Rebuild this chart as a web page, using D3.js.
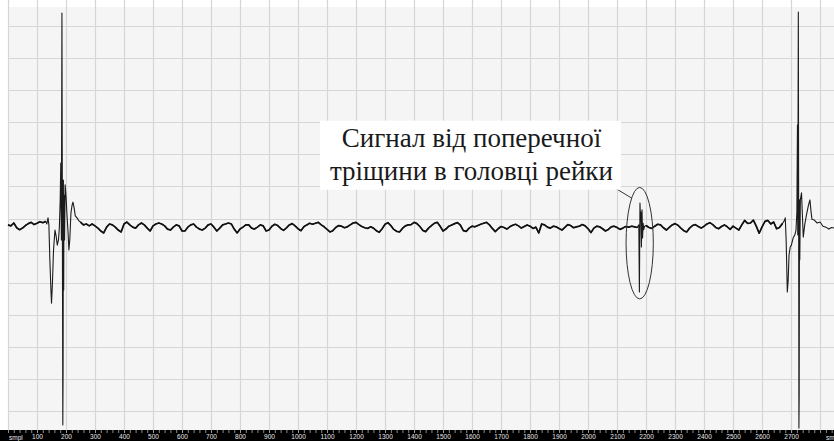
<!DOCTYPE html>
<html>
<head>
<meta charset="utf-8">
<script src="https://cdn.jsdelivr.net/npm/d3@7"></script>
<style>
  html, body { margin: 0; padding: 0; background: #ffffff; }
  svg { display: block; }
</style>
</head>
<body>
<svg id="chart" width="834" height="441"></svg>
<script>
// ---- A-scan of a rail: ultrasonic amplitude vs. sample number ----

// Quiet stretches sampled every 10 samples
const sampleStep = 10;
const leadInStart = 0;
const leadIn = [-2.0, -2.3, -1.4, -2.9, -3.5, -3.0, -2.2, -1.6, -1.2, -1.9, -1.5, -1.0, -1.3, -0.9];

const quietAStart = 250;
const quietA = [
  -1.1, -2.0, -1.7, -2.3, -1.7, -2.3, -3.0, -3.9, -4.5, -2.7,
  -1.7, -2.0, -2.7, -3.6, -4.2, -1.7, -1.1, -2.0, -2.7, -3.0,
  -2.0, -1.4, -2.0, -3.0, -3.9, -2.3, -1.7, -1.4, -1.7, -2.3,
  -3.3, -3.6, -2.7, -2.0, -2.3, -3.9, -3.9, -2.7, -2.0, -1.7,
  -2.7, -3.3, -3.6, -3.0, -2.0, -1.7, -2.7, -3.9, -3.0, -2.0,
  -1.7, -1.4, -1.7, -3.3, -4.5, -3.3, -2.7, -2.0, -2.0, -3.0,
  -3.3, -2.7, -2.0, -2.3, -3.9, -3.6, -2.4, -1.8, -2.2, -3.1,
  -3.7, -2.9, -2.0, -1.6, -2.3, -3.2, -3.8, -2.6, -2.0, -1.5,
  -1.8, -1.5, -1.2, -2.0, -2.6, -3.4, -4.2, -3.8, -2.8, -2.2,
  -2.4, -2.9, -2.6, -2.0, -1.4, -1.2, -1.9, -2.5, -2.9, -3.1,
  -2.6, -3.0, -3.8, -4.3, -3.2, -1.8, -1.3, -2.2, -3.4, -4.0,
  -4.2, -3.1, -2.3, -2.0, -1.9, -1.2, -1.6, -2.5, -3.7, -4.1,
  -3.0, -2.2, -1.5, -1.2, -2.4, -3.9, -3.3, -2.4, -2.0, -1.6,
  -1.3, -2.1, -3.8, -4.0, -3.0, -2.4, -2.6, -2.2, -1.8, -1.5,
  -1.2, -2.0, -3.1, -4.1, -3.2, -2.5, -2.8, -3.3, -2.6, -2.1,
  -1.8, -2.3, -3.0, -2.5, -2.0, -2.4, -3.1, -2.7, -4.5, -1.7,
  -2.0, -2.7, -3.0, -2.4, -2.6, -3.1, -3.6, -2.8, -1.9, -2.2,
  -2.9, -2.6, -2.4, -1.9, -2.3, -3.2, -4.4, -3.0, -2.4, -2.6,
  -3.2, -3.9, -3.4, -2.6, -2.4, -2.8, -3.4, -3.0, -2.5, -2.7,
  -2.4, -2.6, -2.8
];

const quietBStart = 2200;
const quietB = [
  -2.2, -2.8, -3.1, -2.4, -1.8, -2.0, -2.9, -3.6, -2.8, -2.0,
  -1.6, -2.1, -3.0, -3.8, -4.2, -3.0, -2.2, -1.9, -2.5, -3.0,
  -2.4, -1.7, -1.3, -1.9, -2.8, -3.2, -2.5, -2.0, -2.6, -3.4,
  -2.4, -3.0, -3.6, -2.0, -0.6, -1.5, -1.4, -0.5, -2.4, -4.6,
  -2.6, -0.9, -0.6, -1.7, -1.1, -3.2, -2.8, -1.6
];

// Echo bursts as [sample, amplitude]
const echoLeft = [
  [134, -1.7], [138, 0.2], [141, -2.0], [144, -12.0], [148, -22.3], [150, -26.4],
  [153, -20.7], [157, -9.8], [162, -3.6], [166, -5.5], [170, -8.3], [174, -6.7],
  [177, -3.0], [180, 5.8], [182, 17.3], [184, -6.7], [185, 30.7], [186, 64.1],
  [187, 21.4], [188, -22.3], [189, -64.4], [190, -47.3], [191, 12.0], [192, -22.3],
  [193, 7.3], [195, -6.7], [197, 10.5], [200, 7.0], [203, 1.7], [207, -4.2],
  [210, -9.8], [213, -6.7], [217, 1.7], [221, 4.2], [224, 5.1], [228, 3.3],
  [232, 0.8], [238, 0.2], [245, -0.8]
];

const flawEcho = [
  [2172, -2.4], [2175, -2.0], [2177, -22.9], [2179, 4.8], [2181, -1.0], [2182, 2.0],
  [2184, -8.9], [2186, 2.7], [2188, -6.1], [2190, -1.5], [2192, -3.5], [2195, -2.4]
];

const echoRight = [
  [2676, -0.8], [2680, 0.2], [2683, -6.7], [2687, -22.9], [2690, -19.2], [2693, -11.4],
  [2697, -8.9], [2701, -8.3], [2707, -6.1], [2713, -5.1], [2717, -3.6], [2720, 2.0],
  [2722, 29.2], [2723, -5.1], [2725, 64.4], [2726, 12.0], [2727, -65.4], [2728, -55.1],
  [2729, 5.8], [2730, -12.9], [2732, 5.8], [2736, 8.0], [2739, 1.1], [2742, -5.8],
  [2747, -2.0], [2753, 1.1], [2760, 4.2], [2765, 5.8], [2769, 2.0], [2772, -0.2],
  [2780, -0.5], [2790, -1.4], [2800, -1.1], [2810, -2.4], [2820, -2.7], [2830, -3.3],
  [2840, -2.8], [2850, -3.0]
];

// Axis labels
const sampleTicks = [100, 200, 300, 400, 500, 600, 700, 800, 900, 1000, 1100, 1200, 1300, 1400,
  1500, 1600, 1700, 1800, 1900, 2000, 2100, 2200, 2300, 2400, 2500, 2600, 2700];
const unitLabel = "smpl";
const noteLines = ["Сигнал від поперечної", "тріщини в головці рейки"];

// ---- assemble the trace ----
const fromRun = (start, vals) => vals.map((v, i) => [start + i * sampleStep, v]);
const quietRuns = [
  fromRun(leadInStart, leadIn),
  fromRun(quietAStart, quietA),
  fromRun(quietBStart, quietB)
];
const trace = [...quietRuns.flat(), ...echoLeft, ...flawEcho, ...echoRight]
  .sort((a, b) => a[0] - b[0]);

// ---- layout ----
const W = 834, H = 441;
const plot = { left: 8, right: 834, top: 7, bottom: 430 };

const x = d3.scaleLinear().domain([0, 2848]).range([plot.left, plot.right]);
const y = d3.scaleLinear().domain([-66, 66]).range([plot.bottom, plot.top]);

const svg = d3.select("#chart");

svg.append("rect").attr("x", 0).attr("y", 0).attr("width", W).attr("height", H).attr("fill", "#ffffff");
svg.append("rect")
  .attr("x", plot.left).attr("y", plot.top)
  .attr("width", plot.right - plot.left).attr("height", plot.bottom - plot.top)
  .attr("fill", "#f5f5f5");

// grid
const grid = svg.append("g").attr("class", "grid");
grid.selectAll("line.v")
  .data(d3.range(0, 2900, 100))
  .join("line")
  .attr("class", "v")
  .attr("x1", d => Math.round(x(d)) + 0.5).attr("x2", d => Math.round(x(d)) + 0.5)
  .attr("y1", 0).attr("y2", plot.bottom)
  .attr("stroke", "#d6d6d6").attr("stroke-width", 1.2);
grid.selectAll("line.h")
  .data(d3.range(-60, 61, 10))
  .join("line")
  .attr("class", "h")
  .attr("x1", plot.left).attr("x2", plot.right)
  .attr("y1", d => Math.round(y(d)) + 0.5).attr("y2", d => Math.round(y(d)) + 0.5)
  .attr("stroke", "#d6d6d6").attr("stroke-width", 1.2);

// signal: thin full trace, quiet stretches drawn a little heavier
const line = d3.line().x(d => x(d[0])).y(d => y(d[1]));
svg.append("path")
  .datum(trace)
  .attr("d", line)
  .attr("fill", "none")
  .attr("stroke", "#1c1c1c")
  .attr("stroke-width", 1.1)
  .attr("stroke-linejoin", "round");
svg.append("g").selectAll("path")
  .data(quietRuns)
  .join("path")
  .attr("d", line)
  .attr("fill", "none")
  .attr("stroke", "#111111")
  .attr("stroke-width", 1.7)
  .attr("stroke-linejoin", "round");

// ---- annotation: ellipse round the flaw echo, leader and caption ----
const flawCentre = { sample: 2178, level: -7.7 };
const ell = {
  cx: x(flawCentre.sample),
  cy: y(flawCentre.level),
  rx: x(flawCentre.sample + 47) - x(flawCentre.sample),
  ry: y(flawCentre.level) - y(flawCentre.level + 17.4)
};
svg.append("ellipse")
  .attr("cx", ell.cx).attr("cy", ell.cy).attr("rx", ell.rx).attr("ry", ell.ry)
  .attr("fill", "none").attr("stroke", "#333333").attr("stroke-width", 1);

const note = svg.append("g");
const noteCentreX = x(1598);
const noteTop = y(30.5);
const lineGap = 33;
const texts = note.selectAll("text")
  .data(noteLines)
  .join("text")
  .attr("x", noteCentreX)
  .attr("y", (d, i) => noteTop + 26 + i * lineGap)
  .attr("text-anchor", "middle")
  .attr("font-family", "'Liberation Serif', 'Times New Roman', serif")
  .attr("font-size", 27)
  .attr("fill", "#1a1a1a")
  .text(d => d);

// white box sized to the caption
let bx0 = Infinity, bx1 = -Infinity;
texts.each(function () { const b = this.getBBox(); bx0 = Math.min(bx0, b.x); bx1 = Math.max(bx1, b.x + b.width); });
const box = { x0: bx0 - 10, x1: bx1 + 8, y0: noteTop, y1: noteTop + 26 + lineGap + 10 };

// leader from caption to ellipse
const ang = -2.2;
const lx1 = ell.cx + ell.rx * Math.cos(ang), ly1 = ell.cy + ell.ry * Math.sin(ang);
note.insert("line", "text")
  .attr("x1", box.x1 - 8).attr("y1", box.y1 - 3)
  .attr("x2", lx1).attr("y2", ly1)
  .attr("stroke", "#333333").attr("stroke-width", 1);
note.insert("rect", "text")
  .attr("x", box.x0).attr("y", box.y0)
  .attr("width", box.x1 - box.x0).attr("height", box.y1 - box.y0)
  .attr("fill", "#ffffff");

// ---- bottom sample axis on a black band ----
svg.append("rect")
  .attr("x", 0).attr("y", plot.bottom)
  .attr("width", W).attr("height", H - plot.bottom)
  .attr("fill", "#000000");

const minorAxis = d3.axisBottom(x)
  .tickValues(d3.range(0, 2900, 20))
  .tickSize(3)
  .tickFormat("");
const gMinor = svg.append("g").attr("transform", `translate(0,${plot.bottom})`).call(minorAxis);
gMinor.select(".domain").remove();
gMinor.selectAll(".tick line").attr("stroke", "#8a8a8a");

const majorAxis = d3.axisBottom(x)
  .tickValues(sampleTicks)
  .tickSize(3)
  .tickPadding(1.5)
  .tickFormat(d3.format("d"));
const gMajor = svg.append("g").attr("transform", `translate(0,${plot.bottom})`).call(majorAxis);
gMajor.select(".domain").remove();
gMajor.selectAll(".tick line").attr("stroke", "#9a9a9a");
gMajor.selectAll(".tick text")
  .attr("fill", "#e6e6e6")
  .attr("font-family", "'Liberation Sans', Arial, sans-serif")
  .attr("font-size", 6.5);

svg.append("text")
  .attr("x", 9).attr("y", 439.5)
  .attr("font-family", "'Liberation Sans', Arial, sans-serif")
  .attr("font-size", 6.5).attr("fill", "#e6e6e6")
  .text(unitLabel);
svg.append("text")
  .attr("x", 826).attr("y", 439.5)
  .attr("font-family", "'Liberation Sans', Arial, sans-serif")
  .attr("font-size", 6.5).attr("fill", "#e6e6e6")
  .text(unitLabel);
</script>
</body>
</html>
